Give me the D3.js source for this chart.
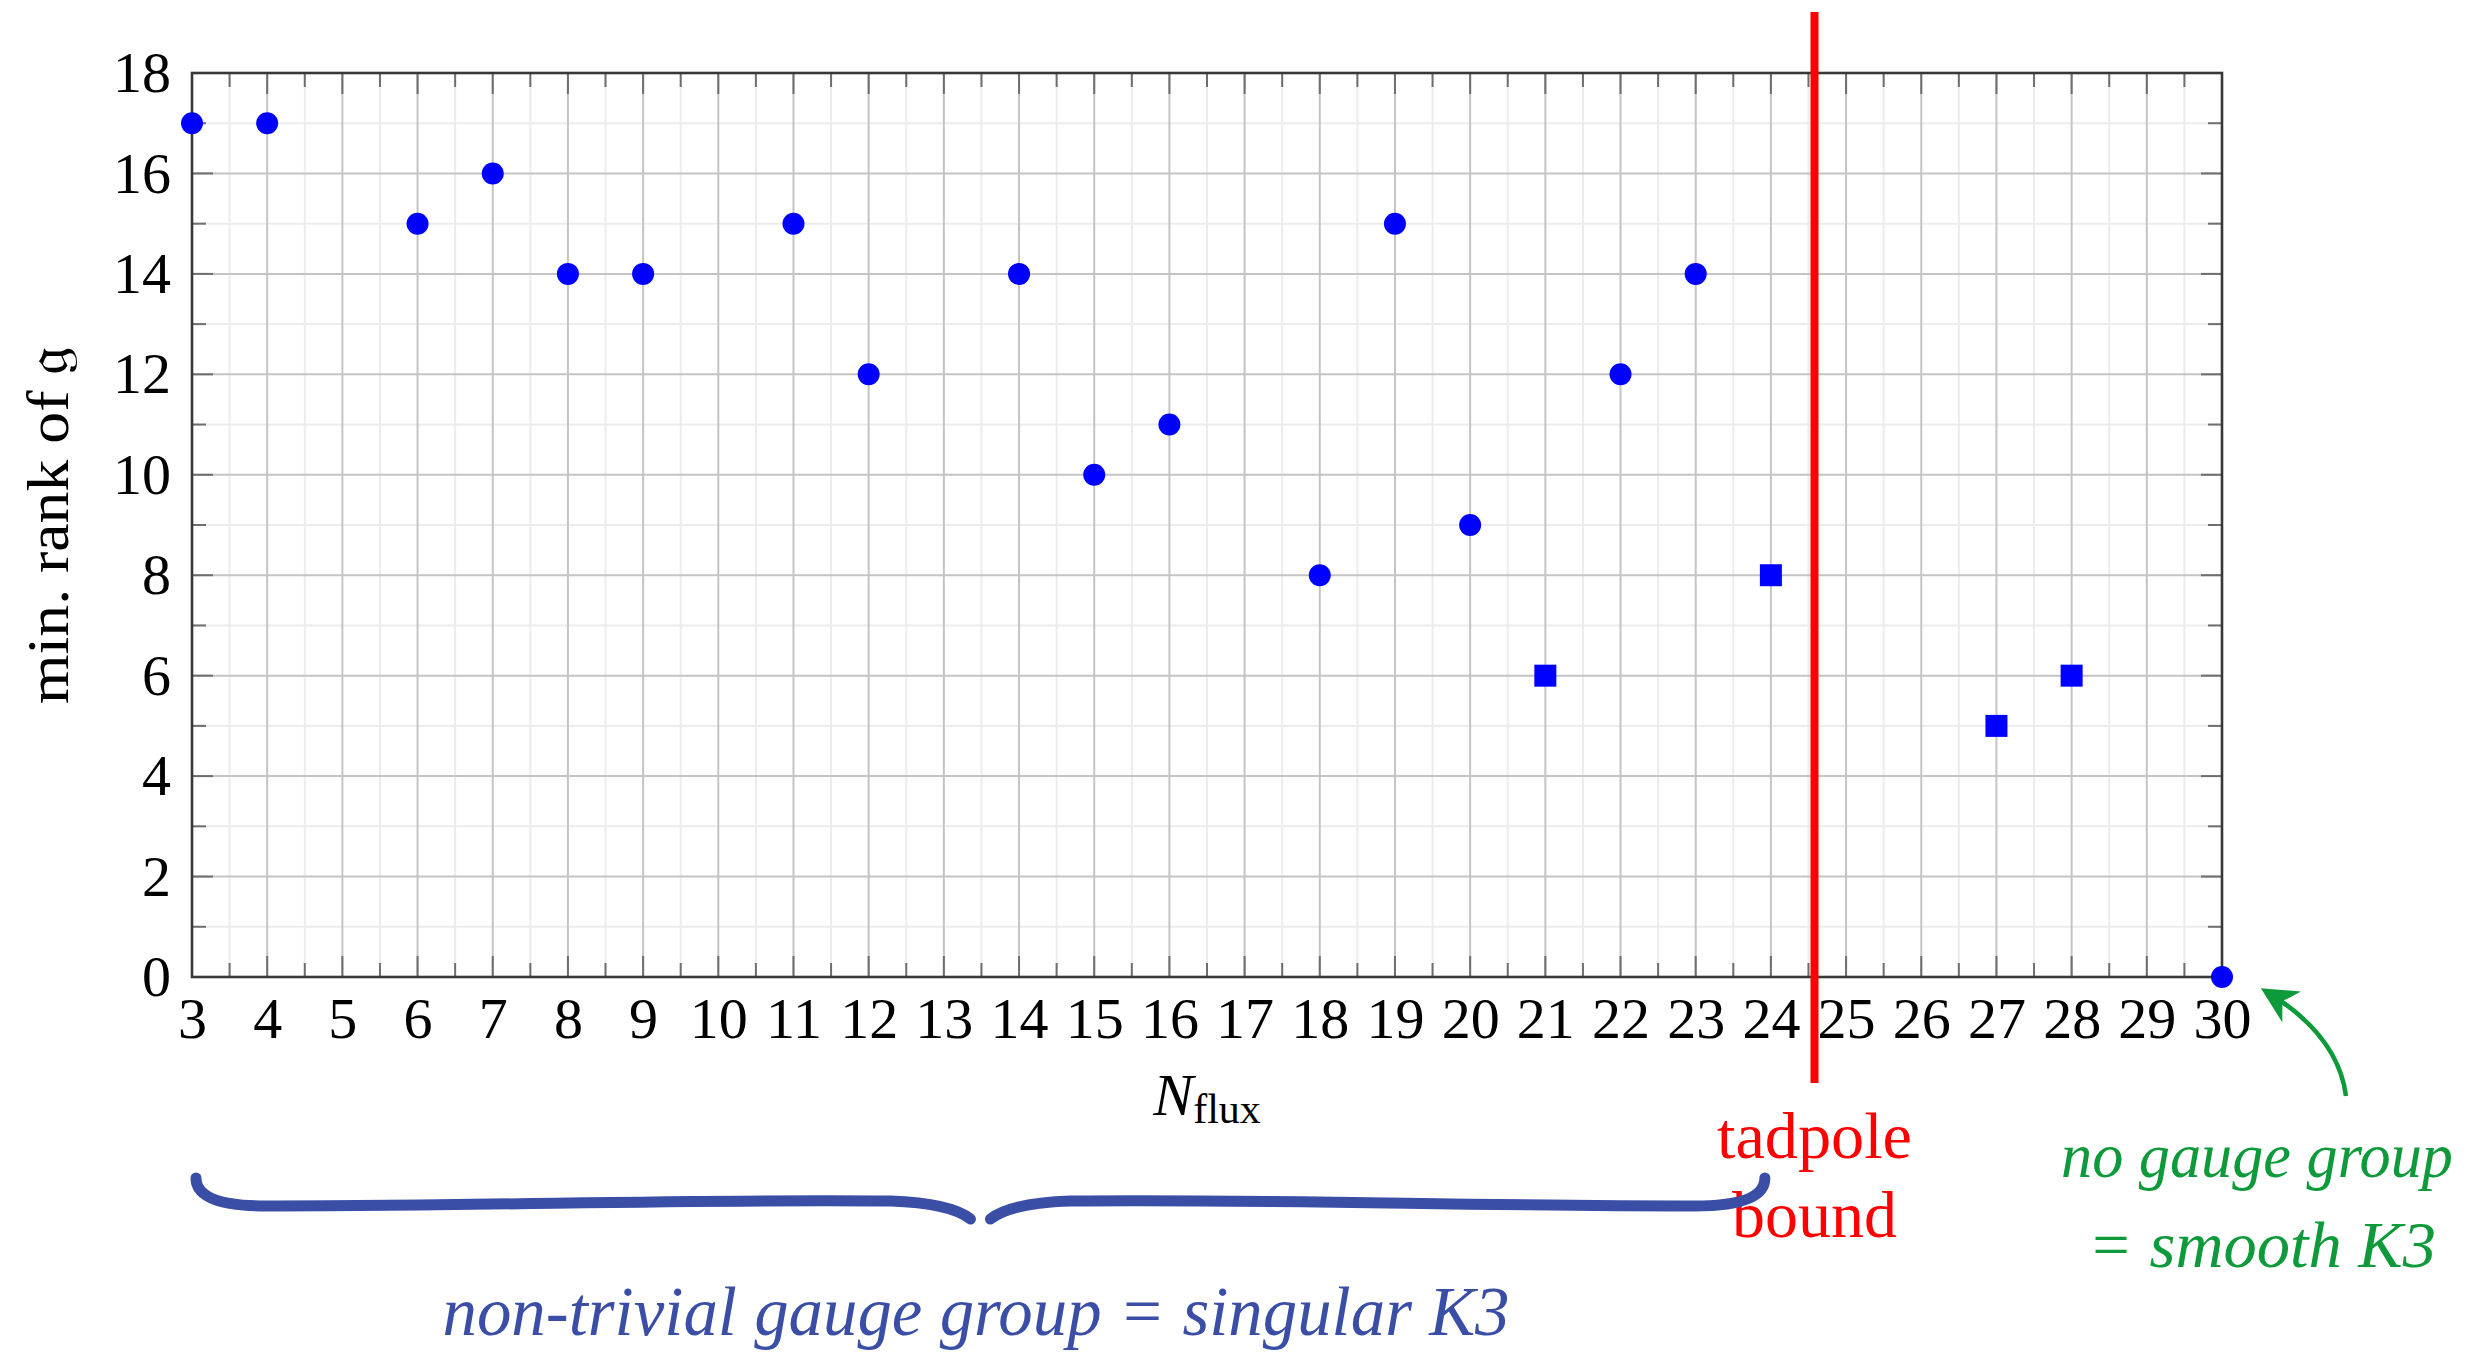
<!DOCTYPE html>
<html lang="en">
  <head>
    <meta charset="UTF-8" />
    <title>min. rank of g vs N_flux</title>
    <script src="https://cdn.jsdelivr.net/npm/d3@7"></script>
    <style>
      body {
        margin: 0;
        background: #ffffff;
      }
      svg text {
        font-family: "Liberation Serif", "DejaVu Serif", serif;
      }
    </style>
  </head>
  <body>
    <div id="chart"></div>
    <script>
      // data
      const circleX = [3, 4, 6, 7, 8, 9, 11, 12, 14, 15, 16, 18, 19, 20, 22, 23, 30];
      const circleY = [17, 17, 15, 16, 14, 14, 15, 12, 14, 10, 11, 8, 15, 9, 12, 14, 0];
      const squareX = [21, 24, 27, 28];
      const squareY = [6, 8, 5, 6];
      const xTicks = d3.range(3, 31);
      const yTicks = [0, 2, 4, 6, 8, 10, 12, 14, 16, 18];
      const tadpoleBound = 24.58;
      const braceSpan = [3, 24];

      const W = 2482, H = 1354;
      const margin = { top: 73, right: 260, bottom: 377, left: 192 };
      const width = W - margin.left - margin.right;
      const height = H - margin.top - margin.bottom;

      const svg = d3
        .select("#chart")
        .append("svg")
        .attr("width", W)
        .attr("height", H);

      const g = svg
        .append("g")
        .attr("transform", `translate(${margin.left},${margin.top})`);

      const x = d3.scaleLinear().domain([3, 30]).range([0, width]);
      const y = d3.scaleLinear().domain([0, 18]).range([height, 0]);

      // minor grid
      const xMinor = d3.range(3.5, 30, 1);
      const yMinor = d3.range(1, 18, 2);
      g.selectAll(".vminor")
        .data(xMinor)
        .enter()
        .append("line")
        .attr("x1", (d) => x(d))
        .attr("x2", (d) => x(d))
        .attr("y1", 0)
        .attr("y2", height)
        .attr("stroke", "#ececec")
        .attr("stroke-width", 2);
      g.selectAll(".hminor")
        .data(yMinor)
        .enter()
        .append("line")
        .attr("x1", 0)
        .attr("x2", width)
        .attr("y1", (d) => y(d))
        .attr("y2", (d) => y(d))
        .attr("stroke", "#ececec")
        .attr("stroke-width", 2);

      // major grid
      g.selectAll(".vmajor")
        .data(xTicks)
        .enter()
        .append("line")
        .attr("x1", (d) => x(d))
        .attr("x2", (d) => x(d))
        .attr("y1", 0)
        .attr("y2", height)
        .attr("stroke", "#c4c4c4")
        .attr("stroke-width", 2);
      g.selectAll(".hmajor")
        .data(yTicks)
        .enter()
        .append("line")
        .attr("x1", 0)
        .attr("x2", width)
        .attr("y1", (d) => y(d))
        .attr("y2", (d) => y(d))
        .attr("stroke", "#c4c4c4")
        .attr("stroke-width", 2);

      // inward tick marks on all four sides
      const tickCol = "#6e6e6e";
      function ticksV(vals, len) {
        vals.forEach((v) => {
          g.append("line").attr("x1", x(v)).attr("x2", x(v)).attr("y1", height).attr("y2", height - len)
            .attr("stroke", tickCol).attr("stroke-width", 2);
          g.append("line").attr("x1", x(v)).attr("x2", x(v)).attr("y1", 0).attr("y2", len)
            .attr("stroke", tickCol).attr("stroke-width", 2);
        });
      }
      function ticksH(vals, len) {
        vals.forEach((v) => {
          g.append("line").attr("y1", y(v)).attr("y2", y(v)).attr("x1", 0).attr("x2", len)
            .attr("stroke", tickCol).attr("stroke-width", 2);
          g.append("line").attr("y1", y(v)).attr("y2", y(v)).attr("x1", width).attr("x2", width - len)
            .attr("stroke", tickCol).attr("stroke-width", 2);
        });
      }
      ticksV(xTicks, 21);
      ticksV(xMinor, 14);
      ticksH(yTicks, 21);
      ticksH(yMinor, 14);

      // frame
      g.append("rect")
        .attr("width", width)
        .attr("height", height)
        .attr("fill", "none")
        .attr("stroke", "#383838")
        .attr("stroke-width", 2.6);

      // tick labels via axes
      const xAxis = g
        .append("g")
        .attr("transform", `translate(0,${height})`)
        .call(d3.axisBottom(x).tickValues(xTicks).tickSize(0).tickPadding(20).tickFormat(d3.format("d")));
      xAxis.select(".domain").remove();
      xAxis.selectAll("text")
        .attr("fill", "#000")
        .style("font-size", "58px")
        .style("font-family", '"Liberation Serif", serif');

      const yAxis = g
        .append("g")
        .call(d3.axisLeft(y).tickValues(yTicks).tickSize(0).tickPadding(21).tickFormat(d3.format("d")));
      yAxis.select(".domain").remove();
      yAxis.selectAll("text")
        .attr("fill", "#000")
        .style("font-size", "58px")
        .style("font-family", '"Liberation Serif", serif');

      // axis titles
      const xl = svg.append("text")
        .attr("x", margin.left + width / 2)
        .attr("y", 1115)
        .attr("text-anchor", "middle")
        .style("font-size", "60px");
      xl.append("tspan").attr("font-style", "italic").text("N");
      xl.append("tspan").attr("dy", 8).style("font-size", "42px").text("flux");

      svg.append("text")
        .attr("transform", `translate(68,${margin.top + height / 2}) rotate(-90)`)
        .attr("text-anchor", "middle")
        .style("font-size", "60px")
        .attr("textLength", 358)
        .attr("lengthAdjust", "spacingAndGlyphs")
        .text("min. rank of 𝔤");

      // points
      const blue = "#0000ff";
      g.selectAll(".pt")
        .data(circleX)
        .enter()
        .append("circle")
        .attr("cx", (d) => x(d))
        .attr("cy", (d, i) => y(circleY[i]))
        .attr("r", 11)
        .attr("fill", blue);

      const s = 22;
      g.selectAll(".sq")
        .data(squareX)
        .enter()
        .append("rect")
        .attr("x", (d) => x(d) - s / 2)
        .attr("y", (d, i) => y(squareY[i]) - s / 2)
        .attr("width", s)
        .attr("height", s)
        .attr("fill", blue);

      // tadpole bound
      g.append("line")
        .attr("x1", x(tadpoleBound))
        .attr("x2", x(tadpoleBound))
        .attr("y1", 12 - margin.top)
        .attr("y2", 1083 - margin.top)
        .attr("stroke", "#ff0000")
        .attr("stroke-width", 8);

      const tx = margin.left + x(tadpoleBound);
      svg.append("text").attr("x", tx).attr("y", 1158).attr("text-anchor", "middle")
        .attr("fill", "#ff0000").style("font-size", "66px")
        .attr("textLength", 195).attr("lengthAdjust", "spacingAndGlyphs").text("tadpole");
      svg.append("text").attr("x", tx).attr("y", 1237).attr("text-anchor", "middle")
        .attr("fill", "#ff0000").style("font-size", "66px")
        .attr("textLength", 165).attr("lengthAdjust", "spacingAndGlyphs").text("bound");

      // brace under the singular region
      const navy = "#3a4ea6";
      const bx1 = margin.left + x(braceSpan[0]) + 4;
      const bx2 = margin.left + x(braceSpan[1]) - 6;
      const bm = (bx1 + bx2) / 2;
      const yEnd = 1178, yBar = 1206, yIn = 1201, yTip = 1219;
      const brace = d3.path();
      brace.moveTo(bx1, yEnd);
      brace.quadraticCurveTo(bx1, yBar, bx1 + 70, yBar);
      brace.bezierCurveTo(bx1 + 300, yBar, bm - 300, yIn - 2, bm - 90, yIn);
      brace.quadraticCurveTo(bm - 30, yIn + 2, bm - 10, yTip);
      brace.moveTo(bm + 10, yTip);
      brace.quadraticCurveTo(bm + 30, yIn + 2, bm + 90, yIn);
      brace.bezierCurveTo(bm + 300, yIn - 2, bx2 - 300, yBar, bx2 - 70, yBar);
      brace.quadraticCurveTo(bx2, yBar, bx2, yEnd);
      svg.append("path")
        .attr("d", brace.toString())
        .attr("fill", "none")
        .attr("stroke", navy)
        .attr("stroke-width", 11)
        .attr("stroke-linecap", "round");

      svg.append("text").attr("x", 976).attr("y", 1335).attr("text-anchor", "middle")
        .attr("fill", navy).attr("font-style", "italic").style("font-size", "70px")
        .attr("textLength", 1067).attr("lengthAdjust", "spacingAndGlyphs")
        .text("non-trivial gauge group = singular K3");

      // smooth K3 note + arrow
      const green = "#0e9a3a";
      svg.append("text").attr("x", 2257).attr("y", 1177).attr("text-anchor", "middle")
        .attr("fill", green).attr("font-style", "italic").style("font-size", "63px")
        .attr("textLength", 392).attr("lengthAdjust", "spacingAndGlyphs").text("no gauge group");
      svg.append("text").attr("x", 2262).attr("y", 1267).attr("text-anchor", "middle")
        .attr("fill", green).attr("font-style", "italic").style("font-size", "66px")
        .attr("textLength", 348).attr("lengthAdjust", "spacingAndGlyphs").text("= smooth K3");

      svg.append("defs")
        .append("marker")
        .attr("id", "arr")
        .attr("viewBox", "0 0 10 10")
        .attr("refX", 8)
        .attr("refY", 5)
        .attr("markerWidth", 36)
        .attr("markerHeight", 36)
        .attr("markerUnits", "userSpaceOnUse")
        .attr("orient", "auto")
        .append("path")
        .attr("d", "M0,0 L10,5 L0,10 L3,5 Z")
        .attr("fill", green);

      const ax = margin.left + x(30) + 45, ay = margin.top + y(0) + 15;
      svg.append("path")
        .attr("d", `M2346,1096 Q2338,1035 ${ax},${ay}`)
        .attr("fill", "none")
        .attr("stroke", green)
        .attr("stroke-width", 4.5)
        .attr("marker-end", "url(#arr)");
    </script>
  </body>
</html>
